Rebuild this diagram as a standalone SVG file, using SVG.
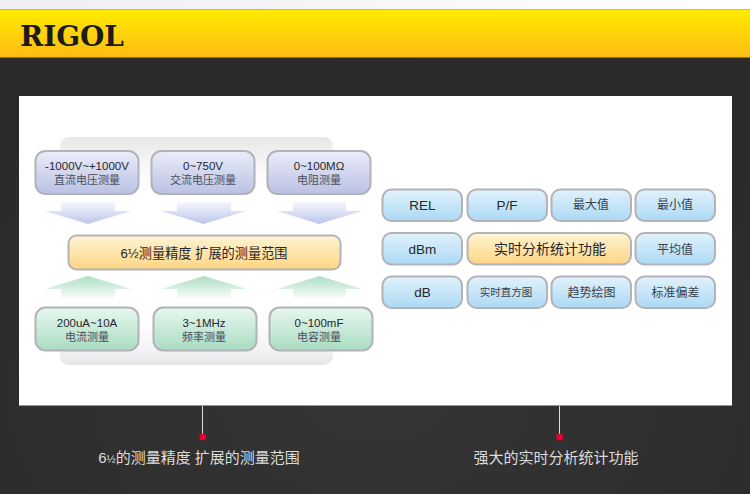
<svg xmlns="http://www.w3.org/2000/svg" width="750" height="494" viewBox="0 0 750 494">
<defs>
<linearGradient id="top" x1="0" x2="1" y1="0" y2="0"><stop offset="0" stop-color="#eeeef3"/><stop offset="1" stop-color="#ffffff"/></linearGradient>
<linearGradient id="band" x1="0" x2="0" y1="0" y2="1"><stop offset="0" stop-color="#ffec00"/><stop offset="1" stop-color="#fdbb14"/></linearGradient>
<radialGradient id="dark" cx="0.5" cy="0.8" r="0.7"><stop offset="0" stop-color="#353535"/><stop offset="1" stop-color="#2a2a2a"/></radialGradient>
<linearGradient id="back" x1="0" x2="0" y1="0" y2="1"><stop offset="0" stop-color="#e8e8e8"/><stop offset="0.17" stop-color="#fbfbfb"/><stop offset="0.25" stop-color="#ffffff"/><stop offset="0.8" stop-color="#ffffff"/><stop offset="0.93" stop-color="#f3f3f5"/><stop offset="1" stop-color="#e6e6ea"/></linearGradient>
<linearGradient id="purple" x1="0" x2="0" y1="0" y2="1"><stop offset="0" stop-color="#ebedf9"/><stop offset="1" stop-color="#bac1e4"/></linearGradient>
<linearGradient id="green" x1="0" x2="0" y1="0" y2="1"><stop offset="0" stop-color="#e8f7f0"/><stop offset="1" stop-color="#a9dcc1"/></linearGradient>
<linearGradient id="blue" x1="0" x2="0" y1="0" y2="1"><stop offset="0" stop-color="#e2f2fb"/><stop offset="1" stop-color="#abd9f5"/></linearGradient>
<linearGradient id="orange" x1="0" x2="0" y1="0" y2="1"><stop offset="0" stop-color="#fff4d4"/><stop offset="1" stop-color="#fdd582"/></linearGradient>
<linearGradient id="down" x1="0" x2="0" y1="0" y2="1"><stop offset="0" stop-color="#f6f7fc"/><stop offset="1" stop-color="#bcc5ea"/></linearGradient>
<linearGradient id="up" x1="0" x2="0" y1="0" y2="1"><stop offset="0" stop-color="#acdec3"/><stop offset="1" stop-color="#fcfefd"/></linearGradient>
<style>
text{font-family:"Liberation Sans","Noto Sans CJK SC",sans-serif;text-anchor:middle;fill:#26262c}
.n rect{stroke:#b2b2b8;stroke-width:2}
.l{font-size:11.500px}
.s{font-size:11px;fill:#4a4f5c}
.b{font-size:13.500px}
.c{font-size:12px;fill:#3a3f48}
.cap{font-size:15px;fill:#dcdcdc}
.lead{stroke:#dddddd;stroke-width:1}
.dot{fill:#e8002b}
</style>
</defs>
<rect width="750" height="494" fill="url(#dark)"/>
<rect width="750" height="9.500" fill="url(#top)"/>
<rect y="9.500" width="750" height="48" fill="url(#band)"/>
<text x="72" y="46" style="font-family:'DejaVu Serif',serif;font-weight:bold;font-size:27px;fill:#1f1a1a" textLength="104" lengthAdjust="spacingAndGlyphs">RIGOL</text>
<rect x="19" y="96" width="713" height="309.500" fill="#ffffff"/>
<rect x="60" y="137" width="273" height="228" rx="9" fill="url(#back)"/>
<g id="arrows-down" fill="url(#down)">
<path d="M61 202H115V211H131L88 224L45 211H61Z"/>
<path d="M177 202H231V211H246.500L203.500 224L161 211H177Z"/>
<path d="M293 202H346V211H362L319 224L277 211H293Z"/>
</g>
<g id="arrows-up" fill="url(#up)">
<path d="M88 276L131 289H115V299H61V289H45Z"/>
<path d="M204 276L247 289H231V299H177V289H161Z"/>
<path d="M319.500 276L362 289H346V299H293V289H277Z"/>
</g>
<g id="n-dc-v" class="n"><rect x="35.500" y="151" width="103" height="43" rx="10" fill="url(#purple)"/><text class="l" x="87" y="170">-1000V~+1000V</text><text class="s" x="87" y="184">直流电压测量</text></g>
<g id="n-ac-v" class="n"><rect x="151.500" y="151" width="103" height="43" rx="10" fill="url(#purple)"/><text class="l" x="203" y="170">0~750V</text><text class="s" x="203" y="184">交流电压测量</text></g>
<g id="n-res" class="n"><rect x="267.500" y="151" width="103" height="43" rx="10" fill="url(#purple)"/><text class="l" x="319" y="170">0~100MΩ</text><text class="s" x="319" y="184">电阻测量</text></g>
<g id="n-center" class="n"><rect x="68.500" y="235.500" width="272" height="34" rx="8" fill="url(#orange)"/><text x="204" y="258" style="font-size:13.200px">6½测量精度 扩展的测量范围</text></g>
<g id="n-current" class="n"><rect x="35.500" y="307.500" width="103" height="43" rx="10" fill="url(#green)"/><text class="l" x="87" y="327">200uA~10A</text><text class="s" x="87" y="341">电流测量</text></g>
<g id="n-freq" class="n"><rect x="153.500" y="307.500" width="103" height="43" rx="10" fill="url(#green)"/><text class="l" x="204" y="327">3~1MHz</text><text class="s" x="204" y="341">频率测量</text></g>
<g id="n-cap" class="n"><rect x="269.500" y="307.500" width="103" height="43" rx="10" fill="url(#green)"/><text class="l" x="319" y="327">0~100mF</text><text class="s" x="319" y="341">电容测量</text></g>
<g id="n-rel" class="n"><rect x="382.500" y="189.500" width="79.500" height="31.500" rx="9" fill="url(#blue)"/><text class="b" x="422.500" y="210">REL</text></g>
<g id="n-pf" class="n"><rect x="467.500" y="189.500" width="79.500" height="31.500" rx="9" fill="url(#blue)"/><text class="b" x="507" y="210">P/F</text></g>
<g id="n-max" class="n"><rect x="551.500" y="189.500" width="79.500" height="31.500" rx="9" fill="url(#blue)"/><text class="c" x="591" y="209">最大值</text></g>
<g id="n-min" class="n"><rect x="635.500" y="189.500" width="79.500" height="31.500" rx="9" fill="url(#blue)"/><text class="c" x="675" y="209">最小值</text></g>
<g id="n-dbm" class="n"><rect x="382.500" y="233" width="79.500" height="31.500" rx="9" fill="url(#blue)"/><text class="b" x="422.500" y="254">dBm</text></g>
<g id="n-analysis" class="n"><rect x="467.500" y="233" width="163.500" height="31.500" rx="9" fill="url(#orange)"/><text x="550" y="254" style="font-size:14px">实时分析统计功能</text></g>
<g id="n-avg" class="n"><rect x="635.500" y="233" width="79.500" height="31.500" rx="9" fill="url(#blue)"/><text class="c" x="675" y="254">平均值</text></g>
<g id="n-db" class="n"><rect x="382.500" y="276.500" width="79.500" height="31.500" rx="9" fill="url(#blue)"/><text class="b" x="422.500" y="297">dB</text></g>
<g id="n-hist" class="n"><rect x="467.500" y="276.500" width="79.500" height="31.500" rx="9" fill="url(#blue)"/><text x="506" y="296" style="font-size:10.500px;fill:#3a3f48">实时直方图</text></g>
<g id="n-trend" class="n"><rect x="551.500" y="276.500" width="79.500" height="31.500" rx="9" fill="url(#blue)"/><text class="c" x="591.500" y="297">趋势绘图</text></g>
<g id="n-std" class="n"><rect x="635.500" y="276.500" width="79.500" height="31.500" rx="9" fill="url(#blue)"/><text class="c" x="675.500" y="297">标准偏差</text></g>
<g id="connectors">
<line class="lead" x1="202.500" y1="406" x2="202.500" y2="435"/>
<line class="lead" x1="559.500" y1="406" x2="559.500" y2="435"/>
<circle class="dot" cx="202.700" cy="437" r="3.500"/>
<circle class="dot" cx="559.700" cy="437" r="3.500"/>
</g>
<g id="captions">
<text class="cap" x="199" y="463">6<tspan font-size="11px">½</tspan>的测量精度 扩展的测量范围</text>
<text class="cap" x="556" y="463">强大的实时分析统计功能</text>
</g>
</svg>
